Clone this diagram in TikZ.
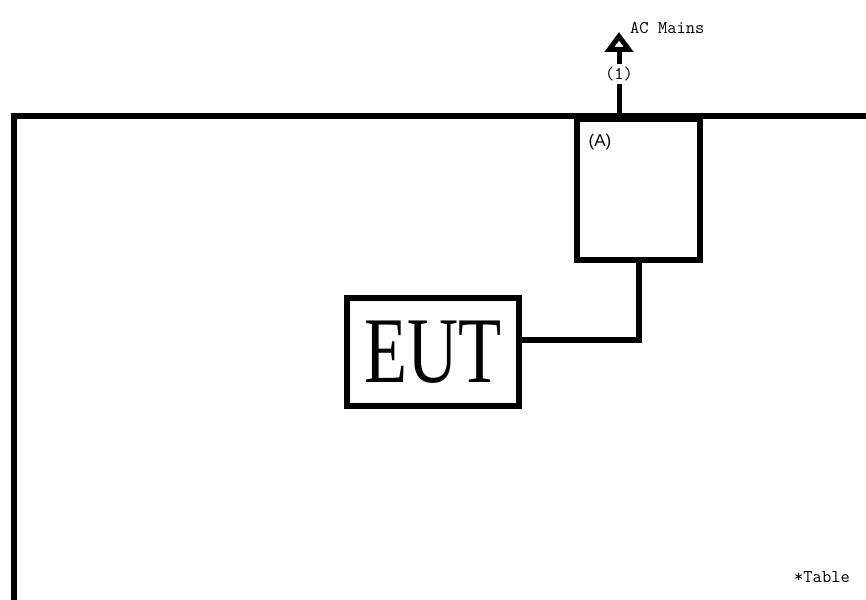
\documentclass[tikz,border=0pt]{standalone}
\usepackage{fontspec}
\setmainfont{Liberation Serif}
\newfontfamily\labelfont{Liberation Sans}
\usetikzlibrary{positioning, arrows.meta}

\begin{document}
\begin{tikzpicture}[
    x=1pt,
    y=-1pt,
    frame/.style={
        line width=6pt
    },
    unit/.style={
        draw,
        rectangle,
        line width=6pt,
        inner sep=0pt,
        fill=white
    },
    wire/.style={line width=6pt},
    feed/.style={line width=5pt, -{Triangle[open, length=20pt, width=28pt]}},
    note/.style={font=\fontsize{18}{18}\selectfont\ttfamily, inner sep=0pt}
]

\useasboundingbox (0,0) rectangle (866,599);

% Test site boundary
\draw[frame] (14,603) -- (14,116) -- (870,116);

% LISN
\node[unit, minimum width=123pt, minimum height=141pt] (lisn) at (638.5,189.5) {};
\node[font=\labelfont\fontsize{17}{17}\selectfont, inner sep=0pt] (lisnlabel) at (600,142) {(A)};

% Equipment under test
\node[unit, minimum width=172pt, minimum height=108pt] (eut) at (433,352) {%
    \fontsize{94}{94}\selectfont\scalebox{0.75}[1]{EUT}
};

% Mains feed
\coordinate (mains) at (619,32);
\draw[feed] (lisn.north -| mains) -- (mains)
  node[midway, note, fill=white, inner sep=3pt] (port) {(1)};
\node[note, anchor=west] (mainslabel) at (630,28) {AC Mains};

% EUT to LISN cable
\draw[wire] (lisn.south) |- ([yshift=12pt]eut.east);

% Note
\node[note, anchor=east] (tablenote) at (850,577) {*Table};

\end{tikzpicture}
\end{document}
